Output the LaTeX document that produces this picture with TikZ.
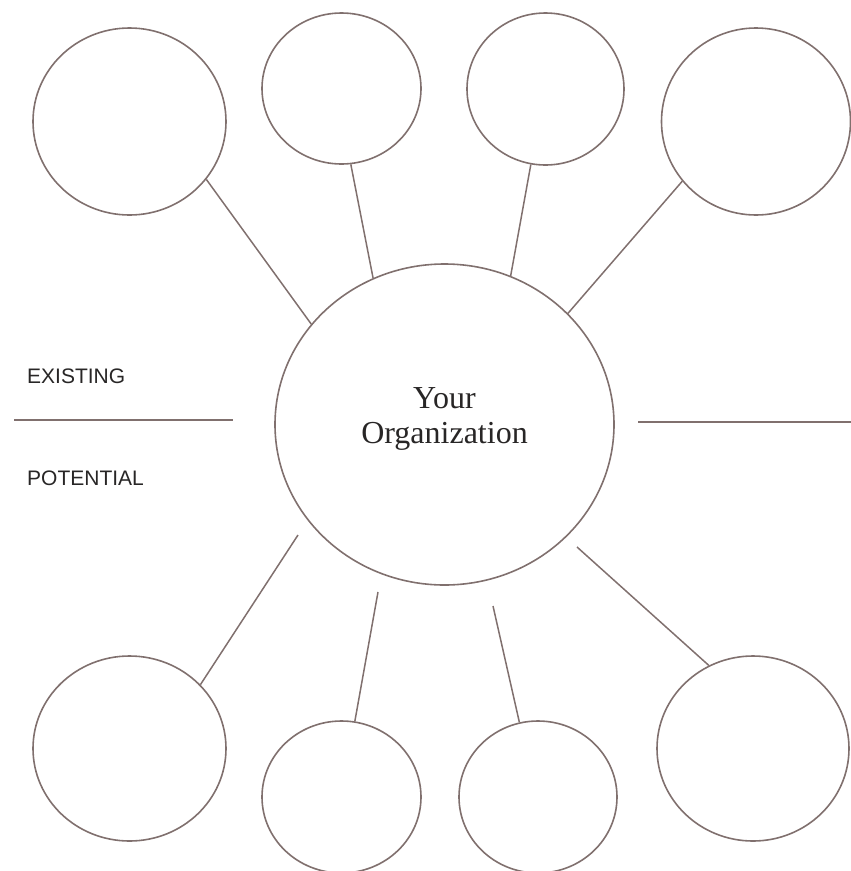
\documentclass[tikz,border=0pt]{standalone}
\usepackage{fontspec}
\setmainfont{Liberation Serif}
\setsansfont{Liberation Sans}
\usetikzlibrary{shapes.geometric}
\definecolor{rim}{RGB}{128,112,110}
\definecolor{ink}{RGB}{40,38,38}
\begin{document}
\begin{tikzpicture}[x=1pt,y=-1pt,
    bub/.style={ellipse,draw=rim,line width=1.6pt,inner sep=0pt},
    link/.style={draw=rim,line width=1.5pt},
    tag/.style={anchor=base west,inner sep=0pt,text=ink,font=\sffamily\fontsize{21}{21}\selectfont}]
\useasboundingbox (0,0) rectangle (851,871);
\node[bub,minimum width=339pt,minimum height=321pt](org) at (444.5,424.5){};
\node[align=center,text=ink,font=\fontsize{32}{35}\selectfont](orgname) at (444.5,418.5){Your\\Organization};
\foreach \n/\x/\y/\w/\h in {t1/129.5/121.5/193/187, t2/341.5/88.5/159/151, t3/545.5/89/157/152, t4/756/121.5/189/187,
    b1/129.5/748.5/193/185, b2/341.5/797/159/152, b3/538/797/158/152, b4/753/748.5/192/185}
{
    \node[bub,minimum width=\w pt,minimum height=\h pt](\n) at (\x,\y){};
}
\draw[link](t1.-37)--(org.143.9);
\draw[link](t2.-83.7)--(org.116.2);
\draw[link](t3.-101.8)--(org.66.3);
\draw[link](t4.-141.7)--(org.42.3);
\coordinate (g1) at (298,535);
\coordinate (g2) at (378,592);
\coordinate (g3) at (493,606);
\coordinate (g4) at (577,547);
\draw[link](g1)--(b1.42.1);
\draw[link](g2)--(b2.80.1);
\draw[link](g3)--(b3.104.2);
\draw[link](g4)--(b4.118.3);
\coordinate (l1) at (14,420);
\coordinate (l2) at (233,420);
\coordinate (r1) at (638,422);
\coordinate (r2) at (851,422);
\draw[link](l1)--(l2);
\draw[link](r1)--(r2);
\node[tag](existing) at (27,383.5){EXISTING};
\node[tag](potential) at (27,485){POTENTIAL};
\end{tikzpicture}
\end{document}
